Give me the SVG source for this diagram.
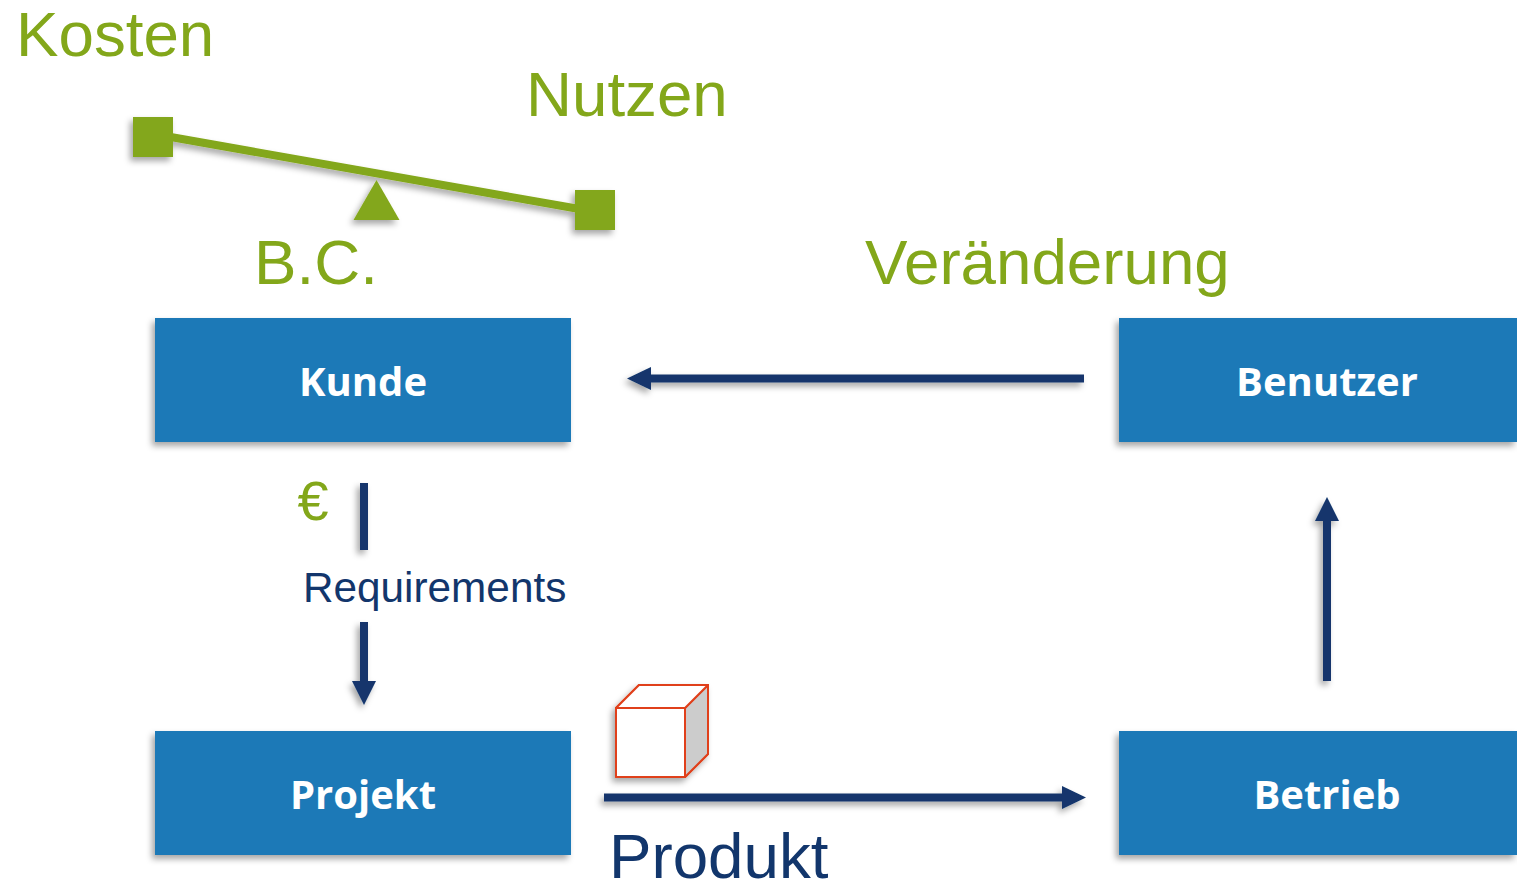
<svg xmlns="http://www.w3.org/2000/svg" width="1517" height="882" viewBox="0 0 1517 882">
<style>
.g{fill:#83a71a;font-family:"Liberation Sans",Arial,sans-serif}
.n{fill:#12366c;font-family:"Liberation Sans",Arial,sans-serif}
.box{fill:#1c79b7}
.lbl{fill:#fff;font-family:"Open Sans","Noto Sans",sans-serif;font-weight:700;font-size:40px;text-anchor:middle}
.con{stroke:#12366c;stroke-width:8;fill:none}
.head{fill:#12366c}
</style>
<defs>
<filter id="sh" x="-20%" y="-20%" width="140%" height="150%">
<feDropShadow dx="-3" dy="4" stdDeviation="3" flood-color="#000" flood-opacity="0.35"/>
</filter>
<filter id="shl" filterUnits="userSpaceOnUse" x="0" y="0" width="1517" height="882">
<feDropShadow dx="-3" dy="4" stdDeviation="3" flood-color="#000" flood-opacity="0.35"/>
</filter>
</defs>
<g id="balance" filter="url(#shl)">
<line x1="165" y1="136" x2="585" y2="210" stroke="#83a71a" stroke-width="8"/>
<rect x="133" y="117" width="40" height="40" fill="#83a71a"/>
<rect x="575" y="190" width="40" height="40" fill="#83a71a"/>
<polygon points="376.500,180 399.500,220 353.500,220" fill="#83a71a"/>
</g>
<text class="g" x="16" y="55.500" font-size="63.700">Kosten</text>
<text class="g" x="526" y="116" font-size="63.700">Nutzen</text>
<text class="g" x="254" y="284" font-size="63.700">B.C.</text>
<text class="g" x="865" y="284" font-size="63.700">Veränderung</text>
<text class="g" x="297.500" y="520" font-size="56">€</text>
<g id="kunde"><rect class="box" x="155" y="318" width="416" height="124" filter="url(#sh)"/><text class="lbl" x="363" y="396">Kunde</text></g>
<g id="benutzer"><rect class="box" x="1119" y="318" width="398" height="124" filter="url(#sh)"/><text class="lbl" x="1327" y="396">Benutzer</text></g>
<g id="projekt"><rect class="box" x="155" y="731" width="416" height="124" filter="url(#sh)"/><text class="lbl" x="363" y="809">Projekt</text></g>
<g id="betrieb"><rect class="box" x="1119" y="731" width="398" height="124" filter="url(#sh)"/><text class="lbl" x="1327" y="809">Betrieb</text></g>
<g id="connectors" filter="url(#shl)">
<path class="con" d="M1084 378.500H645"/><polygon class="head" points="627,378.500 651,367 651,390"/>
<path class="con" d="M364 483V550"/>
<path class="con" d="M364 622V685"/><polygon class="head" points="364,705 352,681 376,681"/>
<path class="con" d="M604 797.500H1068"/><polygon class="head" points="1086,797.500 1062,786 1062,809"/>
<path class="con" d="M1327 681V515"/><polygon class="head" points="1327,497 1315,521 1339,521"/>
</g>
<g id="cube" stroke="#e0401b" stroke-width="2" stroke-linejoin="round">
<g filter="url(#shl)"><polygon points="616,708 639,685 708,685 708,754 685,777 616,777" fill="#fff"/></g>
<polygon points="685,708 708,685 708,754 685,777" fill="#ccc"/>
<polygon points="616,708 639,685 708,685 685,708" fill="#fff"/>
<rect x="616" y="708" width="69" height="69" fill="#fff"/>
</g>
<text class="n" x="303" y="602" font-size="42.300">Requirements</text>
<text class="n" x="609" y="878" font-size="63.700">Produkt</text>
</svg>
